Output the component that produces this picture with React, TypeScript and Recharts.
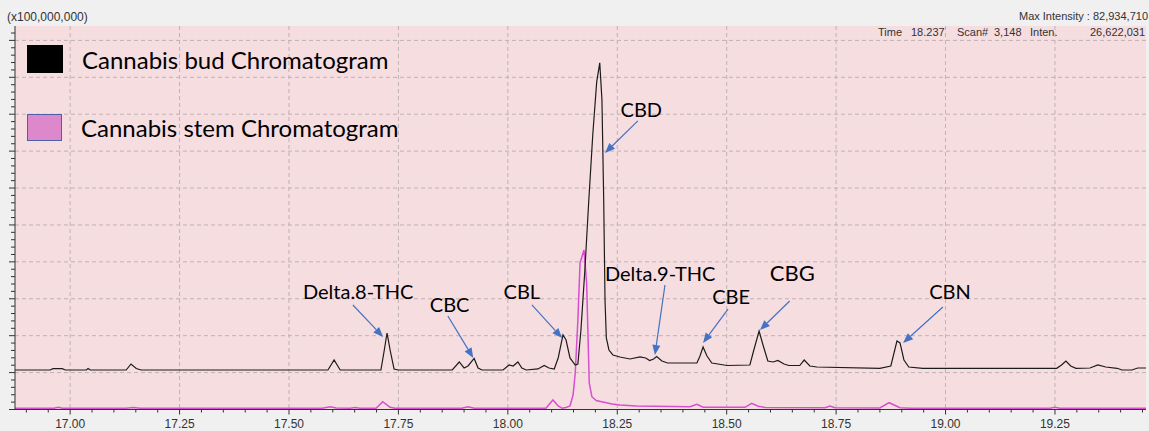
import React from "react";
import {
  ComposedChart,
  Line,
  XAxis,
  YAxis,
  CartesianGrid,
  ReferenceLine,
  ReferenceDot,
  Legend,
} from "recharts";

// retention time (min) and intensity (x1,000,000)
const budTimes = [
  16.874, 16.954, 16.961, 16.982, 16.989, 17.037, 17.041, 17.046, 17.128, 17.139,
  17.151, 17.162, 17.589, 17.603, 17.617, 17.71, 17.717, 17.724, 17.731, 17.74,
  17.749, 17.873, 17.889, 17.9, 17.909, 17.923, 17.932, 17.941, 17.989, 18.003,
  18.012, 18.023, 18.032, 18.042, 18.069, 18.083, 18.094, 18.106, 18.115, 18.126,
  18.133, 18.142, 18.154, 18.16, 18.167, 18.176, 18.185, 18.194, 18.203, 18.21,
  18.215, 18.219, 18.222, 18.225, 18.231, 18.24, 18.256, 18.279, 18.302, 18.315,
  18.324, 18.333, 18.34, 18.352, 18.365, 18.432, 18.439, 18.446, 18.455, 18.466,
  18.501, 18.553, 18.562, 18.574, 18.583, 18.594, 18.606, 18.617, 18.631, 18.642,
  18.667, 18.677, 18.69, 18.706, 18.85, 18.875, 18.889, 18.896, 18.905, 18.916,
  18.948, 19.254, 19.265, 19.275, 19.286, 19.298, 19.33, 19.348, 19.366, 19.392,
  19.403, 19.426, 19.439, 19.458,
];
const budIntensity = [
  10.7, 10.7, 11.06, 11.06, 10.7, 10.7, 11.11, 10.7, 10.7, 12.33,
  11.11, 10.7, 10.7, 13.41, 10.7, 10.7, 15.58, 20.73, 16.12, 10.98,
  10.7, 10.7, 12.87, 11.25, 11.79, 13.82, 11.25, 10.7, 10.7, 12.06,
  11.79, 12.87, 11.25, 10.7, 10.98, 11.92, 11.25, 10.98, 13.96, 20.19,
  18.83, 13.96, 12.06, 12.33, 21.54, 37.8, 56.77, 74.39, 88.75, 93.9,
  83.87, 56.77, 29.67, 19.38, 16.12, 14.77, 14.23, 13.69, 14.23, 13.96,
  13.28, 13.69, 14.36, 13.14, 12.6, 12.6, 14.5, 16.94, 14.5, 12.6,
  11.92, 12.06, 16.12, 21.27, 17.48, 13.14, 12.87, 13.28, 12.33, 11.92,
  11.92, 13.41, 11.79, 11.52, 11.16, 11.79, 18.56, 18.02, 13.41, 11.52,
  11.16, 11.16, 12.06, 13.14, 11.79, 11.16, 11.25, 12.06, 11.52, 11.16,
  10.7, 10.7, 11.25, 11.25,
];

const stemTimes = [
  16.874, 16.963, 16.973, 16.982, 17.128, 17.144, 17.16, 17.576, 17.594, 17.608,
  17.64, 17.651, 17.662, 17.699, 17.714, 17.731, 17.742, 17.895, 17.909, 17.923,
  18.087, 18.103, 18.115, 18.124, 18.133, 18.142, 18.149, 18.154, 18.16, 18.165,
  18.174, 18.18, 18.186, 18.192, 18.202, 18.217, 18.238, 18.256, 18.294, 18.416,
  18.432, 18.446, 18.542, 18.557, 18.572, 18.588, 18.725, 18.736, 18.747, 18.85,
  18.871, 18.896, 18.919, 19.239, 19.25, 19.261, 19.458,
];
const stemIntensity = [
  0.33, 0.33, 0.6, 0.33, 0.33, 0.54, 0.33, 0.33, 0.76, 0.41,
  0.33, 0.54, 0.33, 0.33, 2.11, 0.6, 0.33, 0.33, 0.76, 0.33,
  0.33, 2.57, 0.95, 0.33, 0.54, 0.95, 3.93, 9.89, 24.25, 39.7,
  43.22, 34.28, 7.18, 3.47, 2.44, 2.03, 1.49, 1.22, 0.95, 0.76,
  1.41, 0.6, 0.6, 1.68, 0.87, 0.54, 0.46, 0.95, 0.46, 0.41,
  1.84, 0.49, 0.33, 0.33, 0.6, 0.33, 0.33,
];

const xTickLabels = [17.0, 17.25, 17.5, 17.75, 18.0, 18.25, 18.5, 18.75, 19.0, 19.25];
const yGridValues = [0, 10, 20, 30, 40, 50, 60, 70, 80, 90, 100];

// label position and arrow (from -> to), all in data units
const peakNames = ["Delta.8-THC", "CBC", "CBL", "CBD", "Delta.9-THC", "CBE", "CBG", "CBN"];
const labelTime = [17.658, 17.867, 18.032, 18.305, 18.348, 18.51, 18.65, 19.01];
const labelHeight = [29.95, 26.42, 29.95, 79.27, 34.82, 28.59, 34.82, 29.95];
const arrowFrom = [
  [17.646, 28.32], [17.863, 25.34], [18.055, 28.32], [18.297, 78.18],
  [18.359, 33.74], [18.503, 27.2], [18.644, 29.4], [18.994, 27.78],
];
const arrowTo = [
  [17.715, 19.65], [17.921, 13.96], [18.124, 19.38], [18.222, 69.51],
  [18.336, 14.77], [18.446, 18.02], [18.576, 21.54], [18.903, 18.02],
];
const labelSize = [20, 20, 20, 20, 20, 20, 22, 20];

const budData = budTimes.map((t, i) => ({ t, v: budIntensity[i] }));
const stemData = stemTimes.map((t, i) => ({ t, v: stemIntensity[i] }));

const xMinor: number[] = [];
for (let i = 0; i <= 51; i++) xMinor.push(Math.round((16.9 + i * 0.05) * 100) / 100);
const yMinor: number[] = [];
for (let i = 0; i <= 51; i++) yMinor.push(i * 2);

const axisFont = "'Liberation Sans', Arial, sans-serif";
const labelFont = "Lato, 'Open Sans', sans-serif";

const XTick = (props: any) => {
  const { x, y, payload } = props;
  const v = payload.value;
  const major = xTickLabels.some((m) => Math.abs(m - v) < 1e-6);
  return (
    <g>
      <line x1={x} x2={x} y1={y} y2={y + (major ? 5 : 3)} stroke="#333" />
      {major && (
        <text x={x} y={y + 18} textAnchor="middle" fontSize={12} fill="#333" fontFamily={axisFont}>
          {v.toFixed(2)}
        </text>
      )}
    </g>
  );
};

const YTick = (props: any) => {
  const { x, y, payload } = props;
  const major = payload.value % 10 === 0;
  return <line x1={x - (major ? 6 : 4)} x2={x} y1={y} y2={y} stroke="#333" />;
};

const Arrow = (props: any) => {
  const { x1, y1, x2, y2 } = props;
  const a = Math.atan2(y2 - y1, x2 - x1);
  const L = 10;
  const W = 4;
  const bx = x2 - L * Math.cos(a);
  const by = y2 - L * Math.sin(a);
  const px = -Math.sin(a) * W;
  const py = Math.cos(a) * W;
  return (
    <g>
      <line x1={x1} y1={y1} x2={bx} y2={by} stroke="#4472c4" strokeWidth={1.2} />
      <polygon points={`${x2},${y2} ${bx + px},${by + py} ${bx - px},${by - py}`} fill="#4472c4" />
    </g>
  );
};

const LegendBox = () => (
  <div style={{ fontFamily: labelFont, fontSize: 24, color: "#000" }}>
    <div style={{ display: "flex", alignItems: "center", height: 28 }}>
      <div style={{ width: 36, height: 28, background: "#000" }} />
      <span style={{ marginLeft: 19 }}>Cannabis bud Chromatogram</span>
    </div>
    <div style={{ display: "flex", alignItems: "center", height: 28, marginTop: 40 }}>
      <div style={{ width: 33, height: 25, background: "#dd88cc", border: "1.5px solid #4a62a8" }} />
      <span style={{ marginLeft: 19 }}>Cannabis stem Chromatogram</span>
    </div>
  </div>
);

export default function App() {
  return (
    <div
      style={{
        position: "absolute",
        left: 0,
        top: 0,
        width: 1149,
        height: 431,
        background: "#f0f0f0",
        fontFamily: axisFont,
      }}
    >
      <div style={{ position: "absolute", left: 7, top: 10, fontSize: 12, color: "#333" }}>(x100,000,000)</div>
      <div style={{ position: "absolute", right: 1, top: 10, fontSize: 11, color: "#333" }}>
        Max Intensity : 82,934,710
      </div>
      <ComposedChart width={1149} height={431} margin={{ top: 26, right: 3, bottom: 0, left: 0 }}>
        <CartesianGrid
          fill="#f6dde0"
          stroke="#bfb2b5"
          strokeDasharray="4 3"
          horizontalValues={yGridValues}
          verticalValues={xTickLabels}
        />
        <XAxis
          dataKey="t"
          type="number"
          domain={[16.874, 19.458]}
          allowDataOverflow
          ticks={xMinor}
          interval={0}
          tick={<XTick />}
          tickLine={false}
          tickSize={0}
          tickMargin={0}
          height={21.5}
          axisLine={{ stroke: "#333" }}
        />
        <XAxis
          xAxisId="top"
          orientation="top"
          type="number"
          domain={[16.874, 19.458]}
          tick={false}
          tickLine={false}
          height={0}
          axisLine={{ stroke: "#333" }}
        />
        <YAxis
          type="number"
          domain={[0, 103.9]}
          allowDataOverflow
          ticks={yMinor}
          interval={0}
          tick={<YTick />}
          tickLine={false}
          tickSize={0}
          tickMargin={0}
          width={15}
          axisLine={{ stroke: "#333" }}
        />
        <YAxis
          yAxisId="right"
          orientation="right"
          type="number"
          domain={[0, 103.9]}
          tick={false}
          tickLine={false}
          width={0}
          axisLine={{ stroke: "#555" }}
        />
        <Legend
          verticalAlign="middle"
          align="center"
          layout="horizontal"
          wrapperStyle={{ left: 27, top: 45, width: 400 }}
          content={() => <LegendBox />}
        />
        <Line
          data={stemData}
          dataKey="v"
          type="linear"
          stroke="#d64fd0"
          strokeWidth={1.5}
          dot={false}
          isAnimationActive={false}
        />
        <Line
          data={budData}
          dataKey="v"
          type="linear"
          stroke="#1c1c1c"
          strokeWidth={1.2}
          dot={false}
          isAnimationActive={false}
        />
        {peakNames.map((name, i) => (
          <ReferenceLine
            key={"a" + name}
            segment={[
              { x: arrowFrom[i][0], y: arrowFrom[i][1] },
              { x: arrowTo[i][0], y: arrowTo[i][1] },
            ]}
            shape={<Arrow />}
            ifOverflow="visible"
          />
        ))}
        {peakNames.map((name, i) => (
          <ReferenceDot
            key={"l" + name}
            x={labelTime[i]}
            y={labelHeight[i]}
            ifOverflow="visible"
            shape={(p: any) => (
              <text
                x={p.cx}
                y={p.cy}
                textAnchor="middle"
                fontSize={labelSize[i]}
                fontFamily={labelFont}
                fill="#000"
              >
                {name}
              </text>
            )}
          />
        ))}
      </ComposedChart>
      <div style={{ position: "absolute", top: 26, left: 0, width: 1149, fontSize: 11, color: "#333" }}>
        <span style={{ position: "absolute", left: 878 }}>Time</span>
        <span style={{ position: "absolute", left: 911 }}>18.237</span>
        <span style={{ position: "absolute", left: 957 }}>Scan#</span>
        <span style={{ position: "absolute", left: 994 }}>3,148</span>
        <span style={{ position: "absolute", left: 1030 }}>Inten.</span>
        <span style={{ position: "absolute", left: 1090 }}>26,622,031</span>
      </div>
    </div>
  );
}
